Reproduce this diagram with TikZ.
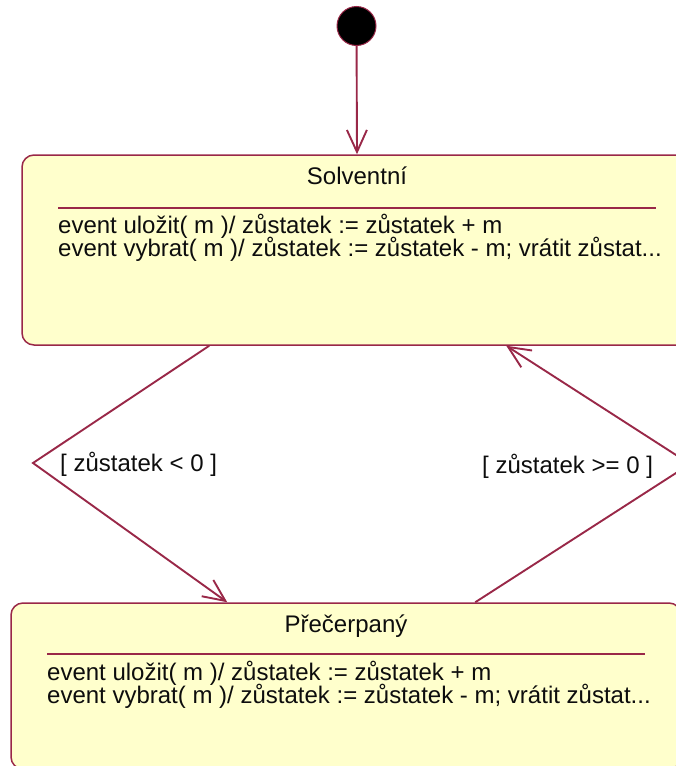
\documentclass[tikz,border=0pt]{standalone}
\usepackage{fontspec}
\setmainfont{Liberation Sans}
\usetikzlibrary{arrows.meta}

\definecolor{umlred}{RGB}{153,40,72}
\definecolor{umlfill}{RGB}{255,255,204}

\newcommand{\evulozit}{event uložit( m )/ zůstatek := zůstatek + m}
\newcommand{\evvybrat}{event vybrat( m )/ zůstatek := zůstatek - m; vrátit zůstat...}

\begin{document}
\begin{tikzpicture}
	 [x=1pt,y=-1pt,
	  every node/.style={inner sep=0pt,text=black!95,font=\fontsize{24}{20}\selectfont},
	  state/.style={draw=umlred,fill=umlfill,line width=1.5pt,rounded corners=12pt,minimum width=670pt},
	  trans/.style={draw=umlred,line width=1.9pt,-{Straight Barb[length=22pt,width=20pt]}},
	  sepline/.style={draw=umlred,line width=1.4pt},
	  evline/.style={anchor=base west}]
	\useasboundingbox (0,0) rectangle (676,766);
	\clip (0,0) rectangle (676,766);

	  \node (solv)[state,minimum height=190pt] at (357,250) {};
	  \node (prec)[state,minimum height=166pt] at (346,686) {};

%	Solventni
	  \node (solvname)[anchor=base] at (357,184) {Solventní};
	\draw[sepline] (58,208) -- (656,208);
	  \node (solv1)[evline] at (58,233) {\evulozit};
	  \node (solv2)[evline] at (58,256) {\evvybrat};

%	Precerpany
	  \node (precname)[anchor=base] at (346,632) {Přečerpaný};
	\draw[sepline] (47,654) -- (645,654);
	  \node (prec1)[evline] at (47,680) {\evulozit};
	  \node (prec2)[evline] at (47,703) {\evvybrat};

	  \node (init)[circle,fill=black,draw=umlred,line width=1pt,minimum size=39pt] at (356.5,26) {};
	\draw[trans] (init) -- (solv.north);

	  \coordinate (lbend) at (33,463);
	  \coordinate (rbend) at (690,464);
	\draw[trans] ([xshift=188pt]solv.south west) -- (lbend) -- ([xshift=217pt]prec.north west);
	\draw[trans] ([xshift=465pt]prec.north west) -- (rbend) -- ([xshift=485pt]solv.south west);

	  \node (glow)[anchor=base west] at (60,471) {[ zůstatek < 0 ]};
	  \node (ghigh)[anchor=base west] at (482,473) {[ zůstatek >= 0 ]};

\end{tikzpicture}
\end{document}
